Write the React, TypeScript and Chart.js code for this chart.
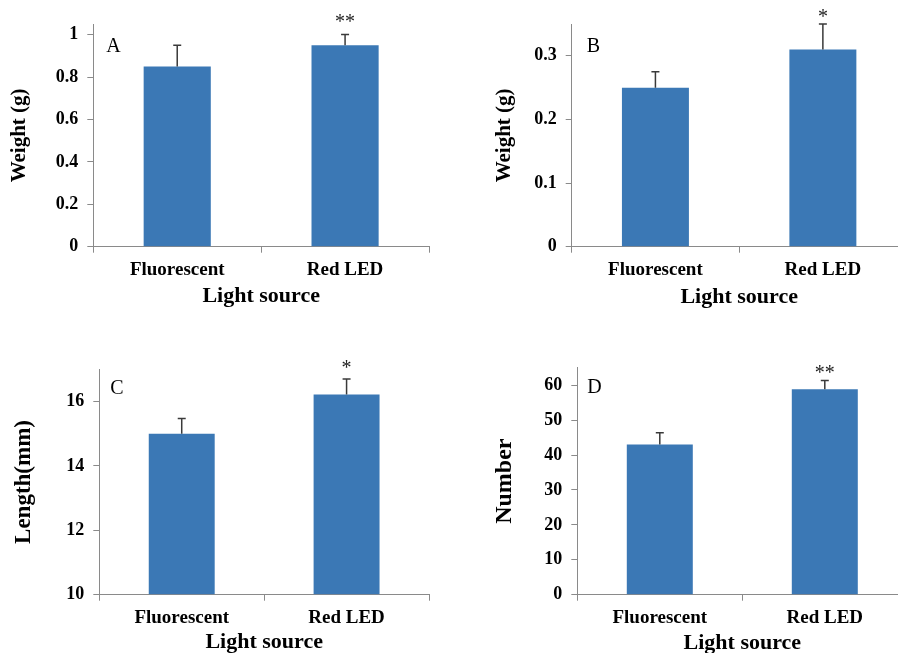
import React, { useEffect, useRef } from "react";
import { Chart, registerables } from "chart.js";

Chart.register(...registerables);

// ---- data ----
const categories = ["Fluorescent", "Red LED"];
const xAxisTitle = "Light source";

const weightA = [0.85, 0.95];
const errorA = [0.1, 0.05];
const signifA = ["", "**"];
const ticksA = [0, 0.2, 0.4, 0.6, 0.8, 1];

const weightB = [0.25, 0.31];
const errorB = [0.025, 0.04];
const signifB = ["", "*"];
const ticksB = [0, 0.1, 0.2, 0.3];

const lengthC = [15.0, 16.22];
const errorC = [0.47, 0.48];
const signifC = ["", "*"];
const ticksC = [10, 12, 14, 16];

const numberD = [43, 58.8];
const errorD = [3.4, 2.5];
const signifD = ["", "**"];
const ticksD = [0, 10, 20, 30, 40, 50, 60];

const FONT = "'Liberation Serif', 'Times New Roman', serif";
const BAR_COLOR = "#3b78b5";
const AXIS_COLOR = "#8a8a8a";

type Panel = {
  letter: string;
  values: number[];
  errors: number[];
  stars: string[];
  yTicks: number[];
  yMin: number;
  yMax: number;
  yTitle: string;
  yTitleSize: number;
  left: number;
  top: number;
  W: number;
  H: number;
  area: { l: number; r: number; t: number; b: number };
  yTitleX: number;
  xTitleY: number;
  letterDX: number;
  letterDY: number;
  starGap: number;
};

const panels: Panel[] = [
  {
    letter: "A", values: weightA, errors: errorA, stars: signifA, yTicks: ticksA,
    yMin: 0, yMax: 1.05, yTitle: "Weight (g)", yTitleSize: 21,
    left: 0, top: 0, W: 449, H: 326,
    area: { l: 93.3, r: 429, t: 24, b: 246.7 },
    yTitleX: 20, xTitleY: 296.5, letterDX: 13, letterDY: 23, starGap: 17,
  },
  {
    letter: "B", values: weightB, errors: errorB, stars: signifB, yTicks: ticksB,
    yMin: 0, yMax: 0.35, yTitle: "Weight (g)", yTitleSize: 21,
    left: 449, top: 0, W: 470, H: 326,
    area: { l: 122.7, r: 457.6, t: 24, b: 246.7 },
    yTitleX: 55.8, xTitleY: 297.5, letterDX: 15, letterDY: 23, starGap: 11,
  },
  {
    letter: "C", values: lengthC, errors: errorC, stars: signifC, yTicks: ticksC,
    yMin: 10, yMax: 17, yTitle: "Length(mm)", yTitleSize: 23,
    left: 0, top: 326, W: 449, H: 340,
    area: { l: 99.3, r: 429, t: 43.3, b: 268.7 },
    yTitleX: 24, xTitleY: 316, letterDX: 11, letterDY: 19, starGap: 15,
  },
  {
    letter: "D", values: numberD, errors: errorD, stars: signifD, yTicks: ticksD,
    yMin: 0, yMax: 65, yTitle: "Number", yTitleSize: 24,
    left: 449, top: 326, W: 470, H: 340,
    area: { l: 128.3, r: 458.3, t: 41.7, b: 268.7 },
    yTitleX: 55.7, xTitleY: 317.5, letterDX: 10, letterDY: 20, starGap: 12,
  },
];

const X_TITLE_SIZE = 22;

function PanelChart({ p }: { p: Panel }) {
  const ref = useRef<HTMLCanvasElement | null>(null);

  useEffect(() => {
    if (!ref.current) return;
    const lhY = p.yTitleSize * 1.2;
    const lhX = X_TITLE_SIZE * 1.2;
    const padLeft = p.yTitleX - lhY / 2;
    const yWidth = p.area.l - padLeft;
    const padRight = p.W - p.area.r;
    const padTop = p.area.t;
    const padBottom = p.H - p.xTitleY - lhX / 2;
    const xHeight = p.H - padBottom - p.area.b;

    const overlay = {
      id: "errorBarsAndLabels",
      afterDatasetsDraw(chart: any) {
        const ctx = chart.ctx as CanvasRenderingContext2D;
        const meta = chart.getDatasetMeta(0);
        const ys = chart.scales.y;
        ctx.save();
        meta.data.forEach((bar: any, i: number) => {
          const v = p.values[i];
          const e = p.errors[i];
          const x = bar.x;
          const y0 = ys.getPixelForValue(v);
          const y1 = ys.getPixelForValue(v + e);
          ctx.strokeStyle = "#3a3a3a";
          ctx.lineWidth = 1.5;
          ctx.beginPath();
          ctx.moveTo(x, y0);
          ctx.lineTo(x, y1);
          ctx.moveTo(x - 4, y1);
          ctx.lineTo(x + 4, y1);
          ctx.stroke();
          if (p.stars[i]) {
            ctx.fillStyle = "#222";
            ctx.font = `normal 20px ${FONT}`;
            ctx.textAlign = "center";
            ctx.textBaseline = "alphabetic";
            ctx.fillText(p.stars[i], x, y1 - p.starGap + 10);
          }
        });
        const ca = chart.chartArea;
        ctx.fillStyle = "#000";
        ctx.font = `normal 20px ${FONT}`;
        ctx.textAlign = "left";
        ctx.textBaseline = "middle";
        ctx.fillText(p.letter, ca.left + p.letterDX, ca.top + p.letterDY);
        ctx.restore();
      },
    };

    const chart = new Chart(ref.current, {
      type: "bar",
      data: {
        labels: categories,
        datasets: [
          {
            data: p.values,
            backgroundColor: BAR_COLOR,
            borderWidth: 0,
            categoryPercentage: 1,
            barPercentage: 0.4,
            base: p.yMin,
          } as any,
        ],
      },
      options: {
        responsive: false,
        animation: false,
        devicePixelRatio: 1,
        layout: {
          padding: { left: padLeft, right: padRight, top: padTop, bottom: padBottom },
        },
        plugins: {
          legend: { display: false },
          tooltip: { enabled: false },
        },
        scales: {
          x: {
            offset: true,
            grid: {
              offset: true,
              drawOnChartArea: false,
              drawTicks: true,
              tickLength: 6,
              color: AXIS_COLOR,
            },
            border: { display: true, color: AXIS_COLOR, width: 1 },
            ticks: {
              color: "#000",
              padding: 6,
              font: { family: FONT, size: 19, weight: "bold" },
            },
            title: {
              display: true,
              text: xAxisTitle,
              color: "#000",
              padding: 0,
              font: { family: FONT, size: X_TITLE_SIZE, weight: "bold", lineHeight: 1.2 },
            },
            afterFit: (s: any) => {
              s.height = xHeight;
            },
          },
          y: {
            min: p.yMin,
            max: p.yMax,
            bounds: "data",
            grid: {
              drawOnChartArea: false,
              drawTicks: true,
              tickLength: 6,
              color: AXIS_COLOR,
            },
            border: { display: true, color: AXIS_COLOR, width: 1 },
            ticks: {
              color: "#000",
              padding: 9,
              font: { family: FONT, size: 18, weight: "bold" },
              callback: (v: any) => String(v),
            },
            afterBuildTicks: (axis: any) => {
              axis.ticks = p.yTicks.map((v) => ({ value: v }));
            },
            title: {
              display: true,
              text: p.yTitle,
              color: "#000",
              padding: 0,
              font: { family: FONT, size: p.yTitleSize, weight: "bold", lineHeight: 1.2 },
            },
            afterFit: (s: any) => {
              s.width = yWidth;
            },
          },
        },
      } as any,
      plugins: [overlay],
    });
    return () => chart.destroy();
  }, [p]);

  return (
    <canvas
      ref={ref}
      width={p.W}
      height={p.H}
      style={{ position: "absolute", left: p.left, top: p.top, width: p.W, height: p.H }}
    />
  );
}

export default function App() {
  return (
    <div
      style={{
        position: "absolute",
        left: 0,
        top: 0,
        width: 898,
        height: 653,
        overflow: "hidden",
        background: "#fff",
      }}
    >
      {panels.map((p) => (
        <PanelChart key={p.letter} p={p} />
      ))}
    </div>
  );
}
